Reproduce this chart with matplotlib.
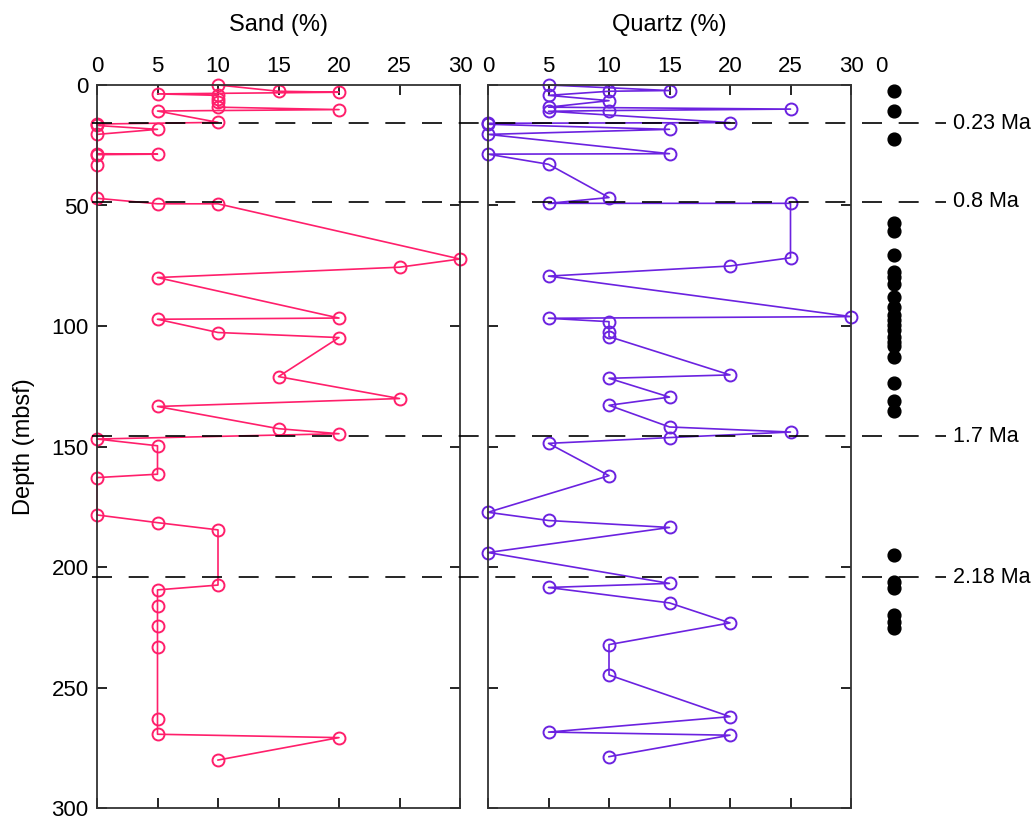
import matplotlib
matplotlib.use("Agg")
import matplotlib.pyplot as plt

plt.rcParams['font.family'] = ['Liberation Sans', 'DejaVu Sans']

# Sand content (%) against depth (mbsf)
sand_depth = [0, 2.6, 3.0, 3.7, 4.3, 5.7, 7.0, 9.2, 10.2, 10.8, 15.5, 16.2, 16.8,
              18.4, 20.5, 28.5, 28.7, 28.9, 33.0, 47.0, 49.3, 49.3, 72.2, 75.6,
              79.9, 96.7, 97.2, 102.7, 104.8, 121.0, 130.1, 133.4, 142.6, 144.7,
              146.9, 149.7, 161.5, 162.9, 178.4, 181.6, 184.6, 207.5, 209.5,
              216.0, 224.3, 233.3, 263.2, 269.4, 270.8, 280.1]
sand_pct = [10, 15, 20, 5, 10, 10, 10, 10, 20, 5, 10, 0, 0,
            5, 0, 0, 5, 0, 0, 0, 5, 10, 30, 25,
            5, 20, 5, 10, 20, 15, 25, 5, 15, 20,
            0, 5, 5, 0, 0, 5, 10, 10, 5,
            5, 5, 5, 5, 5, 20, 10]

# Quartz content (%) against depth (mbsf)
quartz_depth = [0, 2.3, 2.6, 4.3, 6.5, 9.2, 10.0, 10.6, 10.9, 15.6, 15.9, 16.3,
                18.4, 20.5, 28.5, 28.7, 32.9, 46.7, 49.1, 49.1, 71.7, 75.1,
                79.3, 96.1, 96.8, 98.2, 102.3, 104.4, 120.3, 121.7, 129.5,
                132.9, 141.9, 144.0, 146.3, 148.7, 162.1, 177.3, 180.7, 183.6,
                194.0, 206.8, 208.5, 214.9, 223.2, 232.2, 244.8, 262.1, 268.5,
                269.8, 278.7]
quartz_pct = [5, 15, 10, 5, 10, 5, 25, 10, 5, 20, 0, 0,
              15, 0, 15, 0, 5, 10, 5, 25, 25, 20,
              5, 30, 5, 10, 10, 10, 20, 10, 15,
              10, 15, 25, 15, 5, 10, 0, 5, 15,
              0, 15, 5, 15, 20, 10, 10, 20, 5,
              20, 10]

# Sample depths marked in the right-hand column
sample_depth = [2.3, 10.8, 22.4, 57.4, 60.4, 70.5, 77.7, 79.6, 82.5, 88.0, 92.0,
                95.4, 97.5, 99.6, 101.5, 104.5, 106.5, 108.5, 113.0, 123.8,
                131.1, 135.4, 195.0, 206.1, 208.9, 219.9, 222.7, 225.5]

# Age horizons
age_depth = [15.9, 48.4, 145.8, 204.2]
age_labels = ["0.23 Ma", "0.8 Ma", "1.7 Ma", "2.18 Ma"]

pct_ticks = [0, 5, 10, 15, 20, 25, 30]
depth_ticks = [0, 50, 100, 150, 200, 250, 300]

SAND_COLOR = '#ff1f6b'
QUARTZ_COLOR = '#6b22e0'
FS = 16

W, H = 1032, 822
fig = plt.figure(figsize=(W / 100, H / 100), dpi=100)

def px_axes(x0, x1, y0=85, y1=808):
    return fig.add_axes([x0 / W, 1 - y1 / H, (x1 - x0) / W, (y1 - y0) / H])

def style_panel(ax, title, ylabels):
    ax.set_xlim(0, 30)
    ax.set_ylim(300, 0)
    ax.set_xticks(pct_ticks)
    ax.set_yticks(depth_ticks)
    ax.xaxis.tick_top()
    ax.tick_params(axis='both', which='both', direction='in', length=7, width=1.2,
                   top=True, bottom=True, left=True, right=True,
                   labeltop=True, labelbottom=False, labelleft=ylabels,
                   labelright=False, labelsize=FS, pad=6, colors='black')
    ax.set_xlabel(title, fontsize=FS + 1, labelpad=18)
    ax.xaxis.set_label_position('top')
    for s in ax.spines.values():
        s.set_linewidth(1.3)
        s.set_color('#333333')

ax_sand = px_axes(97, 460)
ax_sand.plot(sand_pct, sand_depth, color=SAND_COLOR, lw=1.2, marker='o',
             ms=8.6, mfc='none', mec=SAND_COLOR, mew=1.4, clip_on=False)
style_panel(ax_sand, 'Sand (%)', True)
ax_sand.set_ylabel('Depth (mbsf)', fontsize=FS + 1, labelpad=12)

ax_qtz = px_axes(488, 851)
ax_qtz.plot(quartz_pct, quartz_depth, color=QUARTZ_COLOR, lw=1.2, marker='o',
            ms=8.6, mfc='none', mec=QUARTZ_COLOR, mew=1.4, clip_on=False)
style_panel(ax_qtz, 'Quartz (%)', False)

# Sample column
ax_s = px_axes(881, 920)
ax_s.set_xlim(0, 3)
ax_s.set_ylim(300, 0)
ax_s.plot([1] * len(sample_depth), sample_depth, 'o', color='black', ms=9.2,
          clip_on=False)
ax_s.set_xticks([0])
ax_s.set_yticks([])
ax_s.xaxis.tick_top()
ax_s.tick_params(axis='x', length=0, labelsize=FS, pad=6)
for s in ax_s.spines.values():
    s.set_visible(False)
ax_s.patch.set_visible(False)

# Age horizons across all panels
ax_age = px_axes(92, 946)
ax_age.set_xlim(0, 1)
ax_age.set_ylim(300, 0)
ax_age.axis('off')
for d, lab in zip(age_depth, age_labels):
    ax_age.axhline(d, color='black', lw=1.2, dashes=(12, 10))
    ax_age.text(1.008, d, lab, fontsize=FS - 0.5, ha='left', va='center',
                clip_on=False)

fig.savefig('out.png', dpi=100)
